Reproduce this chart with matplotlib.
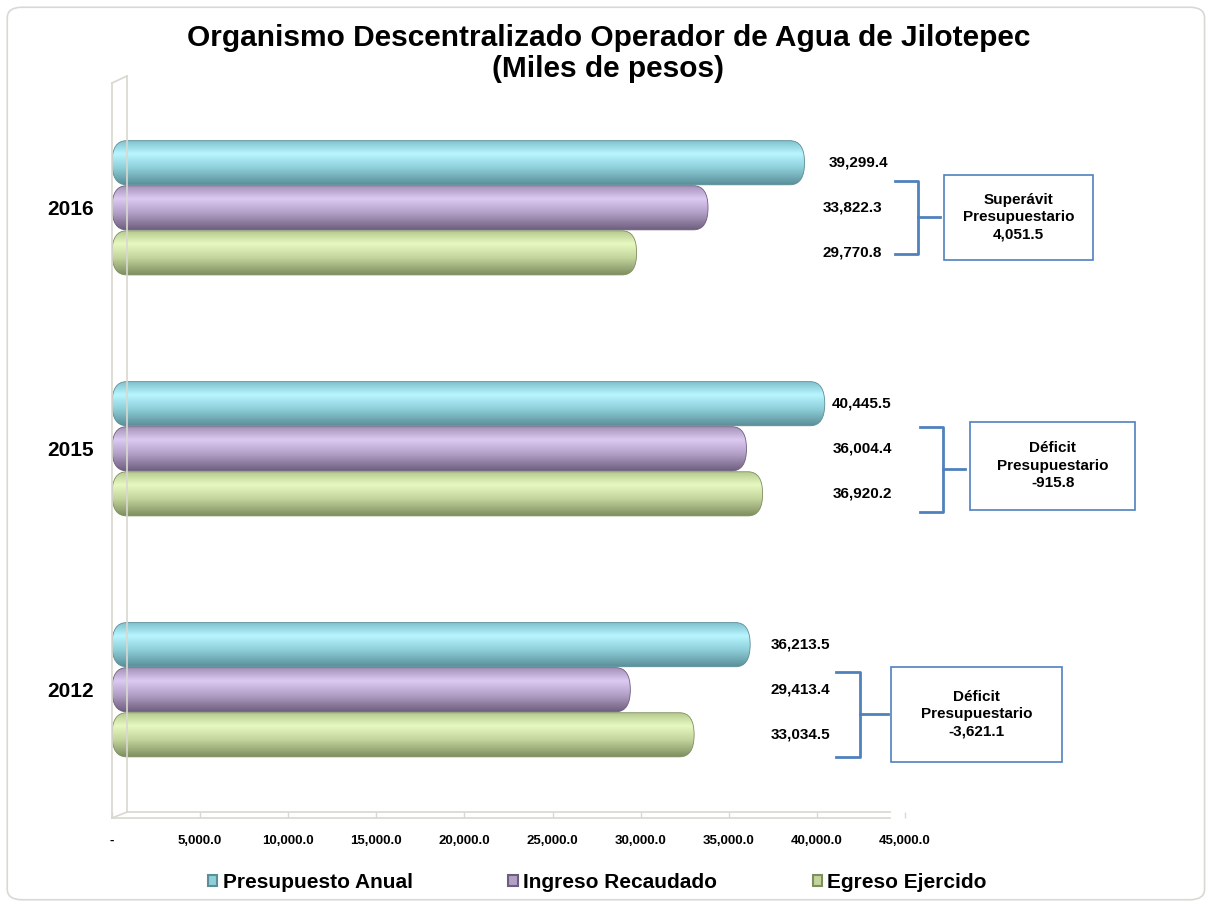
import numpy as np
import matplotlib
matplotlib.use('Agg')
from matplotlib import pyplot as plt
from matplotlib.patches import FancyBboxPatch, Rectangle, Patch
from matplotlib.lines import Line2D
from matplotlib.colors import to_rgb

years = ['2012', '2015', '2016']
presupuesto = [36213.5, 40445.5, 39299.4]
ingreso = [29413.4, 36004.4, 33822.3]
egreso = [33034.5, 36920.2, 29770.8]
series_names = ['Presupuesto Anual', 'Ingreso Recaudado', 'Egreso Ejercido']
balance_titles = ['Déficit\nPresupuestario\n-3,621.1',
                  'Déficit\nPresupuestario\n-915.8',
                  'Superávit\nPresupuestario\n4,051.5']
xticks = np.arange(0, 45001, 5000)
xticklabels = ['-'] + ['{:,.1f}'.format(v) for v in xticks[1:]]

# colour stops for each bar (top edge, highlight, lower, bottom)
grads = [['#7ec0cc', '#b8f5ff', '#8ecfd9', '#5a8e98'],
         ['#a38fb6', '#dccaf2', '#b3a0c7', '#6e5e7e'],
         ['#b3c78d', '#e7f9c0', '#c3d49d', '#7e8e5f']]

plt.rcParams['font.family'] = ['Liberation Sans', 'DejaVu Sans']

fig = plt.figure(figsize=(12.07, 9.07), dpi=100)
fig.patch.set_facecolor('white')
fig.patches.append(FancyBboxPatch((0.006, 0.008), 0.992, 0.984,
                                  boxstyle='round,pad=0,rounding_size=0.012',
                                  transform=fig.transFigure, facecolor='white',
                                  edgecolor='#d9d9d4', linewidth=1.2, zorder=-10))

# 0 at x=112px, 45,000 at x=905px
ax = fig.add_axes([112 / 1207, 0.1014, 793 / 1207, 0.805])
ax.set_xlim(0, 45000)
ax.set_ylim(-0.52, 2.51)
for s in ax.spines.values():
    s.set_visible(False)

ypos = np.arange(len(years))
off = 0.187
bh = 0.183
r = 820
asp = (bh / 2) / r

def gradient_img(stops, n=64):
    cols = np.array([to_rgb(c) for c in stops])
    pos = np.array([0.0, 0.3, 0.62, 1.0])
    t = np.linspace(0, 1, n)
    img = np.stack([np.interp(t, pos, cols[:, k]) for k in range(3)], axis=1)
    return img[:, None, :]

for si, vals in enumerate([presupuesto, ingreso, egreso]):
    bars = ax.barh(ypos + off * (1 - si), vals, height=bh, color='none', zorder=2)
    for b in bars:
        x0, y0, w, h = b.get_x(), b.get_y(), b.get_width(), b.get_height()
        p = FancyBboxPatch((x0, y0), w, h, boxstyle=f'round,pad=0,rounding_size={r}',
                           mutation_aspect=asp, facecolor='none',
                           edgecolor=grads[si][3], linewidth=0.6, zorder=4)
        ax.add_patch(p)
        im = ax.imshow(gradient_img(grads[si]), extent=(x0, x0 + w, y0, y0 + h),
                       origin='upper', aspect='auto', zorder=3, interpolation='bilinear')
        im.set_clip_path(p)
ax.set_xlim(0, 45000)
ax.set_ylim(-0.52, 2.51)

# value labels
label_x = [39050, 42560, 42000]
for i in range(len(years)):
    for si, vals in enumerate([presupuesto, ingreso, egreso]):
        xx = label_x[i] + (350 if (si == 0 and i == 2) else 0)
        ax.text(xx, ypos[i] + off * (1 - si), '{:,.1f}'.format(vals[i]),
                ha='center', va='center', fontsize=11, fontweight='bold', zorder=5)

# brackets and balance boxes (x0, x1, xtick, box_x0, box_x1, y_top, y_bot, box_top, box_bot)
bracket_geom = [(41090, 42450, 44040, 44210, 53920, 0.075, -0.278, 0.095, -0.299),
                (45860, 47160, 48410, 48690, 58060, 1.091, 0.739, 1.112, 0.747),
                (44440, 45740, 46990, 47220, 55680, 2.112, 1.809, 2.137, 1.784)]
bc = '#4f81bd'
for i, g in enumerate(bracket_geom):
    bx0, bx1, bxt, qx0, qx1, yt, yb, qt, qb = g
    ym = (yt + yb) / 2
    ax.add_line(Line2D([bx0, bx1, bx1, bx0], [yt, yt, yb, yb], color=bc, lw=2,
                       clip_on=False))
    ax.add_line(Line2D([bx1, bxt], [ym, ym], color=bc, lw=2, clip_on=False))
    ax.add_patch(Rectangle((qx0, qb), qx1 - qx0, qt - qb, facecolor='white',
                           edgecolor=bc, lw=1.2, clip_on=False))
    ax.text((qx0 + qx1) / 2, (qt + qb) / 2, balance_titles[i], ha='center',
            va='center', fontsize=11, fontweight='bold', linespacing=1.3)

# pseudo 3D wall and floor
wc = '#d8d8d0'
def px(xp, yp):
    return fig.transFigure.inverted().transform((xp, 907 - yp))
for seg in [[(112, 818), (112, 83)], [(112, 83), (127, 76)], [(127, 76), (127, 812)],
            [(112, 818), (127, 812)], [(127, 812), (890, 812)], [(112, 818), (890, 818)]]:
    (xa, ya), (xb, yb_) = px(*seg[0]), px(*seg[1])
    fig.add_artist(Line2D([xa, xb], [ya, yb_], color=wc, lw=1.2))

ax.set_xticks(xticks)
ax.set_xticklabels(xticklabels, fontsize=9.5, fontweight='bold')
ax.tick_params(axis='x', length=5, width=1, color=wc, direction='inout', pad=12)
ax.set_yticks(ypos)
ax.set_yticklabels(years, fontsize=15, fontweight='bold')
ax.tick_params(axis='y', length=0, pad=13)

fig.text(0.504, 0.958, 'Organismo Descentralizado Operador de Agua de Jilotepec',
         ha='center', va='center', fontsize=21.5, fontweight='bold')
fig.text(0.504, 0.924, '(Miles de pesos)', ha='center', va='center',
         fontsize=21.5, fontweight='bold')

handles = [Patch(facecolor=grads[k][2], edgecolor=grads[k][3], lw=1.5) for k in range(3)]
fig.legend(handles, series_names, loc='center', bbox_to_anchor=(0.495, 0.027), ncol=3,
           frameon=False, handlelength=0.45, handleheight=0.45, handletextpad=0.25,
           columnspacing=4.6, prop={'weight': 'bold', 'size': 15})

fig.savefig('out.png', dpi=100)
